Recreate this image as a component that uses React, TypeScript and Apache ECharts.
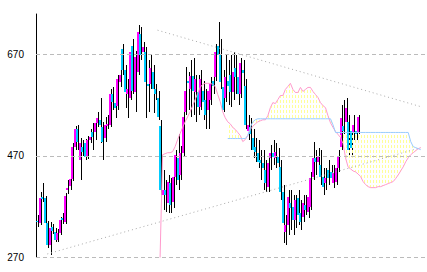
import React, { useEffect, useRef } from 'react';
import * as echarts from 'echarts';

// ---- data ----
const categoryCount = 156;
const categories: string[] = Array.from({ length: categoryCount }, (_, i) => String(i));
const yTicks = [270, 470, 670];

// [open, close, low, high]
const candles: number[][] = [
  [341,339,330,353],[337,387,334,399],[389,385,379,417],[387,337,334,391],[337,294,288,341],
  [294,328,274,339],[330,322,316,336],[320,304,300,328],[304,318,300,326],[318,343,314,349],
  [347,343,336,357],[339,391,336,397],[403,407,395,423],[411,425,403,438],[425,488,421,496],
  [488,522,482,528],[522,498,482,531],[462,496,423,506],[488,478,470,502],[496,468,462,504],
  [468,502,464,510],[502,508,496,522],[516,508,482,535],[516,535,502,545],[535,545,526,557],
  [541,531,496,585],[526,498,462,537],[506,531,498,547],[529,533,522,551],[531,591,526,601],
  [591,577,561,605],[575,565,545,587],[569,621,561,629],[615,629,605,640],[680,640,630,690],
  [640,595,565,650],[591,601,545,621],[585,674,581,684],[686,597,591,700],[595,666,557,676],
  [636,714,630,728],[710,670,660,724],[674,684,650,694],[674,615,545,684],[611,607,557,660],
  [611,644,601,670],[636,601,555,650],[601,591,581,611],[585,547,541,597],[529,403,393,541],
  [393,403,363,442],[403,393,359,423],[377,419,357,432],[417,373,357,427],[379,429,367,442],
  [429,472,413,482],[466,423,403,512],[432,476,423,490],[476,547,468,557],[557,597,551,646],
  [617,613,561,636],[601,627,547,660],[627,597,551,664],[595,621,537,630],[595,567,551,630],
  [567,621,561,640],[597,577,541,617],[581,551,522,601],[561,597,522,611],[581,611,571,625],
  [617,607,591,644],[625,674,617,690],[686,670,650,735],[670,615,601,700],[605,561,557,640],
  [585,625,577,670],[617,607,571,660],[630,595,567,670],[595,636,581,674],[644,625,591,670],
  [625,591,571,640],[591,654,585,664],[640,634,601,660],[607,531,522,621],[518,531,502,551],
  [526,512,482,545],[506,482,466,522],[488,478,458,506],[476,458,446,502],[462,456,423,482],
  [456,446,403,482],[442,417,399,462],[409,456,399,468],[466,476,442,492],[476,468,452,502],
  [466,478,446,496],[468,456,432,486],[448,399,383,462],[399,337,298,413],[320,334,294,353],
  [334,389,314,403],[377,367,324,403],[369,343,314,393],[343,383,328,393],[387,353,334,403],
  [357,339,324,383],[349,377,339,393],[373,363,353,393],[359,389,347,403],[369,427,363,438],
  [429,466,423,498],[466,458,432,482],[458,468,442,486],[452,429,413,482],[429,409,393,446],
  [417,427,403,446],[442,427,413,462],[438,427,419,452],[417,436,407,452],[419,446,413,462],
  [446,468,438,482],[488,545,482,571],[528,518,512,581],[537,565,522,585],[537,482,472,551],
  [518,486,472,531],[516,531,502,551],[518,512,502,531],[516,547,512,551],
];

// pink span (starts at category 49)
const pinkStart = 49;
const pinkLine = [
  268,472,474,476,476,478,488,502,514,526,
  537,547,557,569,581,593,605,611,613,613,
  613,611,607,591,577,557,545,537,533,526,
  522,516,510,498,502,510,522,528,533,537,
  539,541,541,549,565,575,573,581,589,589,
  601,607,613,601,595,595,605,597,601,605,
  605,597,591,585,575,569,565,549,535,526,
  518,512,506,494,466,448,444,440,438,434,
  429,419,413,409,407,407,407,409,409,411,
  413,415,417,419,425,432,440,448,458,466,
  472,476,480,484,486,
];

// light-blue span (starts at category 76)
const blueStart = 76;
const blueLine = [
  504,504,504,504,504,504,504,504,510,526,537,541,
  543,543,543,543,543,543,543,543,543,543,
  543,543,543,543,543,543,543,543,543,543,
  543,543,543,543,543,543,543,543,543,543,
  531,
  516,516,516,516,516,516,516,516,516,516,
  516,516,516,516,516,516,516,516,516,516,
  516,516,516,516,516,516,516,516,516,516,
  498,488,486,484,482,
];

// dotted trend lines: [categoryIndex, value]
const upperTrend = [[48, 718], [153, 567]];
const lowerTrend = [[4, 276], [153, 486]];

function fullSeries(start: number, vals: number[]): (number | string)[] {
  const out: (number | string)[] = new Array(categoryCount).fill('-');
  vals.forEach((v, i) => { out[start + i] = v; });
  return out;
}

export default function App() {
  const ref = useRef<HTMLDivElement>(null);
  useEffect(() => {
    if (!ref.current) return;
    const chart = echarts.init(ref.current, undefined, { renderer: 'svg' });

    const pink = fullSeries(pinkStart, pinkLine);
    const blue = fullSeries(blueStart, blueLine);
    const cloudBase: (number | string)[] = [];
    const cloudDiff: (number | string)[] = [];
    for (let i = 0; i < categoryCount; i++) {
      const a = pink[i], b = blue[i];
      if (typeof a === 'number' && typeof b === 'number') {
        cloudBase.push(Math.min(a, b));
        cloudDiff.push(Math.abs(a - b));
      } else {
        cloudBase.push('-');
        cloudDiff.push('-');
      }
    }

    const cv = document.createElement('canvas');
    cv.width = 3; cv.height = 5;
    const ctx = cv.getContext('2d');
    if (ctx) { ctx.fillStyle = '#ffff99'; ctx.fillRect(1, 0, 1, 3); }

    const candleData = candles.map((d, i) => [i, d[0], d[1], d[2], d[3]]);

    chart.setOption({
      animation: false,
      grid: { left: 36, right: 0, top: 14, bottom: 15 },
      xAxis: { type: 'category', data: categories, show: false, boundaryGap: true },
      yAxis: {
        type: 'value', min: 270, max: 750,
        axisLine: { show: true, lineStyle: { color: '#000', width: 1 } },
        axisTick: { show: true, inside: true, length: 4, lineStyle: { color: '#000' }, customValues: yTicks },
        axisLabel: { customValues: yTicks, color: '#000', fontSize: 10, fontFamily: 'Liberation Sans', margin: 12 },
        splitLine: { show: false },
      },
      series: [
        {
          type: 'line', data: cloudBase, stack: 'cloud', symbol: 'none', silent: true,
          lineStyle: { width: 0, opacity: 0 },
          markLine: {
            silent: true, symbol: 'none', label: { show: false },
            lineStyle: { color: '#bbbbbb', type: [4, 3], width: 1 },
            data: yTicks.map((v) => ({ yAxis: v })),
          },
        },
        {
          type: 'line', data: cloudDiff, stack: 'cloud', symbol: 'none', silent: true,
          lineStyle: { width: 0, opacity: 0 },
          areaStyle: { color: { image: cv, repeat: 'repeat' } as any, opacity: 1 },
        },
        {
          type: 'line', data: lowerTrend, symbol: 'none', silent: true,
          lineStyle: { color: '#aaaaaa', width: 1, type: [1, 3] },
        },
        {
          type: 'line', data: upperTrend, symbol: 'none', silent: true,
          lineStyle: { color: '#aaaaaa', width: 1, type: [1, 3] },
        },
        {
          type: 'line', data: pink, symbol: 'none', silent: true,
          lineStyle: { color: '#ff99cc', width: 1 },
        },
        {
          type: 'line', data: blue, symbol: 'none', silent: true,
          lineStyle: { color: '#99ccff', width: 1 },
        },
        {
          type: 'custom', data: candleData, silent: true,
          encode: { x: 0, y: [1, 2, 3, 4] },
          renderItem: (params: any, api: any) => {
            const idx = api.value(0);
            const o = api.value(1), c = api.value(2), l = api.value(3), h = api.value(4);
            const pO = api.coord([idx, o]);
            const pC = api.coord([idx, c]);
            const pL = api.coord([idx, l]);
            const pH = api.coord([idx, h]);
            const x = Math.round(pO[0]);
            const top = Math.round(Math.min(pO[1], pC[1]));
            const bot = Math.round(Math.max(pO[1], pC[1]));
            const hy = Math.round(pH[1]);
            const ly = Math.round(pL[1]);
            return {
              type: 'group',
              children: [
                { type: 'rect', shape: { x: x + 1, y: hy, width: 1, height: Math.max(1, ly - hy) }, style: { fill: '#000' } },
                { type: 'rect', shape: { x: x - 1, y: top, width: 2, height: Math.max(1, bot - top) }, style: { fill: c >= o ? '#ff00ff' : '#00ccff' } },
              ],
            };
          },
        },
      ],
    });
    return () => chart.dispose();
  }, []);
  return <div ref={ref} style={{ position: 'fixed', left: 0, top: 0, width: 427, height: 272, background: '#fff' }} />;
}
